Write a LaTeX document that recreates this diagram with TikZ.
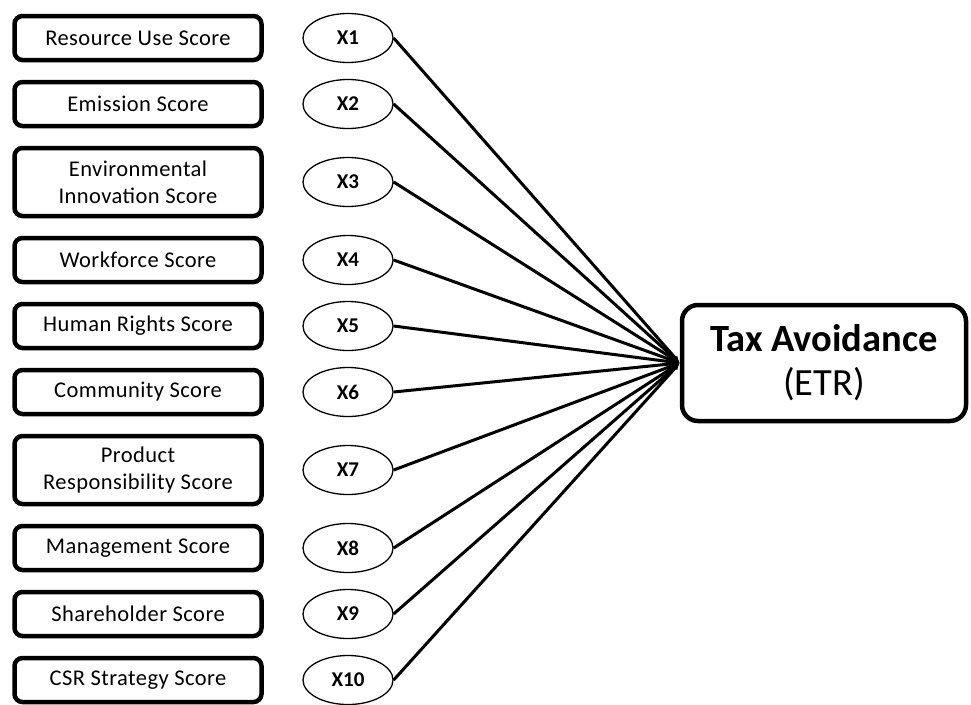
\documentclass[tikz,border=0pt]{standalone}
\usepackage{fontspec}
\setmainfont{Carlito}
\newfontfamily\scorefont[LetterSpace=2]{Carlito}
\usetikzlibrary{shapes.geometric,arrows.meta}

\tikzset{
	scorebox/.style={draw, line width=4.5pt, rounded corners=8pt, minimum width=247pt, inner sep=0pt, align=center, font=\fontsize{22.5}{27}\scorefont},
	itembubble/.style={draw, ellipse, line width=1.3pt, minimum width=90pt, minimum height=49pt, inner sep=0pt, font=\fontsize{21}{24}\selectfont\bfseries},
	taxbox/.style={draw, line width=4.5pt, rounded corners=16pt, minimum width=284pt, minimum height=116pt, align=center, font=\fontsize{38.5}{44}\selectfont},
	link/.style={line width=3pt, -{Latex[length=7pt,width=6pt]}}
}

\begin{document}
\begin{tikzpicture}[x=1pt, y=-1pt]
		\useasboundingbox (0,0) rectangle (971,704);
		% outcome
		\node[taxbox] (tax) at (824,363) {\textbf{Tax Avoidance}\\(ETR)};
		% scores and their labels
		\foreach \i/\y/\h/\txt in {1/38/44/{Resource Use Score}, 2/104/44/{Emission Score}, 3/182/68/{Environmental\\Innovation Score}, 4/260/44/{Workforce Score}, 5/326/44/{Human Rights Score}, 6/392/44/{Community Score}, 7/470/68/{Product\\Responsibility Score}, 8/548/44/{Management Score}, 9/614/44/{Shareholder Score}, 10/680/44/{CSR Strategy Score}} {
			\node[scorebox, minimum height=\h pt] (s\i) at (138,\y) {\txt};
			\node[itembubble] (x\i) at (348,\y) {X\i};
			\draw[link] (x\i.east) -- (tax.west);
		}
	\end{tikzpicture}
\end{document}
